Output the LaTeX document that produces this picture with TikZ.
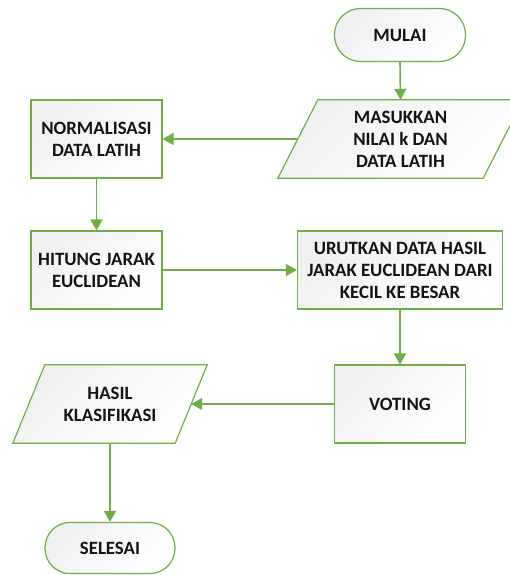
\documentclass[tikz,border=0pt]{standalone}
\usepackage{fontspec}
\setmainfont{Carlito}
\usetikzlibrary{shapes.geometric,arrows.meta,backgrounds,calc}
\definecolor{grn}{HTML}{70AD47}
\begin{document}
\begin{tikzpicture}[x=1pt,y=-1pt,
  txt/.style={font=\bfseries\fontsize{18.8}{22}\selectfont, align=center, text=black!92, inner sep=0pt},
  shd/.style={draw=grn, line width=1.2pt, top color=black!6, bottom color=white, shading angle=45},
  base/.style={txt, shd},
  procbox/.style={base, rectangle, minimum height=78pt},
  termbox/.style={base, rectangle, rounded corners=26pt, minimum width=131pt, minimum height=53pt},
  iobox/.style={txt, rectangle, minimum height=78pt},
  arr/.style={draw=grn, line width=1.6pt, -{Triangle[width=12pt,length=11pt]}}
]
\useasboundingbox (0,0) rectangle (510,575);
\node[termbox] (mulai) at (400,35) {MULAI};
\node[iobox, minimum width=205pt] (input) at (400.5,139) {MASUKKAN\\NILAI k DAN\\DATA LATIH};
\node[procbox, minimum width=131pt] (norm) at (96.5,139) {NORMALISASI\\DATA LATIH};
\node[procbox, minimum width=131pt] (hit) at (96.5,270) {HITUNG JARAK\\EUCLIDEAN};
\node[procbox, minimum width=205pt] (urut) at (400,270) {URUTKAN DATA HASIL\\JARAK EUCLIDEAN DARI\\KECIL KE BESAR};
\node[procbox, minimum width=131pt] (vot) at (400,404) {VOTING};
\node[iobox, minimum width=162pt] (hasil) at (110,404) {HASIL\\KLASIFIKASI};
\node[termbox, minimum width=130pt, minimum height=51pt, rounded corners=25pt] (selesai) at (110,548) {SELESAI};
\begin{scope}[on background layer]
  \path[shd] ($(input.south west)+(-20,0)$) -- ($(input.north west)+(20,0)$)
    -- ($(input.north east)+(20,0)$) -- ($(input.south east)+(-20,0)$) -- cycle;
  \path[shd] ($(hasil.south west)+(-16,0)$) -- ($(hasil.north west)+(16,0)$)
    -- ($(hasil.north east)+(16,0)$) -- ($(hasil.south east)+(-16,0)$) -- cycle;
\end{scope}
\draw[arr] (mulai.south) -- (input.north);
\draw[arr] (input.west) -- (norm.east);
\draw[arr] (norm.south) -- (hit.north);
\draw[arr] (hit.east) -- (urut.west);
\draw[arr] (urut.south) -- (vot.north);
\draw[arr] (vot.west) -- (hasil.east);
\draw[arr] (hasil.south) -- (selesai.north);
\end{tikzpicture}
\end{document}
